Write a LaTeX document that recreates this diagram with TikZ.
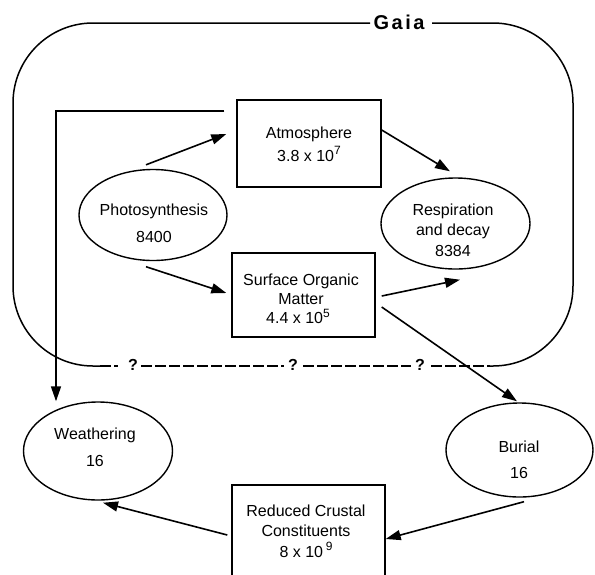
\documentclass[tikz,border=0pt]{standalone}
\usepackage{fontspec}
\setmainfont{Liberation Sans}
\usetikzlibrary{arrows.meta,shapes.geometric,calc}
\newcommand\supx[1]{\raisebox{0.42em}{\fontsize{12}{12}\selectfont #1}}
\begin{document}
\begin{tikzpicture}[x=1pt,y=-1pt,
  arr/.style={line width=1.6pt,-{Triangle[length=15pt,width=10pt]}},
  oval/.style={draw,ellipse,line width=1.4pt,inner sep=0pt},
  box/.style={draw,rectangle,line width=1.4pt,inner sep=0pt},
  lbl/.style={align=center,inner sep=0pt,font=\fontsize{16}{#1}\selectfont},
  bnd/.style={line width=1.5pt},
  dsh/.style={line width=1.7pt,dash pattern=on 11pt off 3pt},
  qm/.style={inner sep=0pt,font=\fontsize{16}{18}\selectfont\bfseries}]
\clip (0,0) rectangle (595,574);
\fill[white] (0,0) rectangle (595,574);
% Gaia boundary
\draw[bnd,rounded corners=80pt] (370,23) -- (13,23) -- (13,366) -- (100,366);
\draw[bnd,rounded corners=80pt] (432,23) -- (573,23) -- (573,366) -- (490,366);
\node[inner sep=0pt,font=\fontsize{20}{24}\selectfont\bfseries] (gaia) at (399,22) {G\kern2.5pt a\kern2.5pt i\kern2.5pt a};
\draw[dsh] (100,366) -- (118,366);
\draw[dsh] (141,366) -- (284,366);
\draw[dsh] (303,366) -- (411,366);
\draw[dsh] (431,366) -- (490,366);
\node[qm] (q1) at (133,365) {?};
\node[qm] (q2) at (293,365) {?};
\node[qm] (q3) at (420,365) {?};
% boxes
\node[box,minimum width=144pt,minimum height=87pt] (atm) at (309,143.5) {};
\node[lbl=23] (atmt) at (309,144) {Atmosphere\\3.8 x 10\supx{7}};
\node[box,minimum width=143pt,minimum height=84pt] (som) at (303.5,295) {};
\node[lbl=19] (somt) at (301,299) {Surface Organic\\Matter\hspace*{20pt}\\4.4 x 10\supx{5}\hspace*{6pt}};
\node[box,minimum width=153pt,minimum height=100pt] (crust) at (308.5,535) {};
\node[lbl=20.5] (crustt) at (306,531) {Reduced Crustal\\Constituents\\8 x 10\,\supx{9}};
% ellipses
\node[oval,minimum width=148pt,minimum height=91pt] (photo) at (153,215) {};
\node[lbl=27] (photot) at (154,223) {Photosynthesis\\8400};
\node[oval,minimum width=149pt,minimum height=91pt] (resp) at (455.5,223.5) {};
\node[lbl=20.5] (respt) at (453,230) {Respiration\\and decay\\8384};
\node[oval,minimum width=149pt,minimum height=98pt] (weath) at (98,451) {};
\node[lbl=27] (weatht) at (95,447) {Weathering\\16};
\node[oval,minimum width=147pt,minimum height=94pt] (burial) at (519.5,450) {};
\node[lbl=26] (burialt) at (519,460) {Burial\\16};
% connectors
\draw[arr] ($(photo.north)+(-7,-4)$) -- ($(atm.west)+(-10,-9.5)$);
\draw[arr] ($(atm.east)+(0,-13.5)$) -- ($(resp.north)+(-5.5,-6)$);
\draw[arr] ($(photo.south)+(-7,5.5)$) -- ($(som.west)+(-5,-2)$);
\draw[arr] ($(som.east)+(6,1)$) -- ($(resp.south)+(4.5,10)$);
\draw[arr] ($(som.east)+(6,12)$) -- ($(burial.north)+(-2.5,-1)$);
\coordinate (fbstart) at ($(atm.west)+(-12,-32.5)$);
\coordinate (fbcorner) at (56,111);
\draw[arr] (fbstart) -- (fbcorner) -- (fbcorner |- weath.north);
\draw[arr] ($(burial.south)+(4.5,4)$) -- ($(crust.east)+(0,4)$);
\draw[arr] ($(crust.west)+(-4,0)$) -- ($(weath.south)+(5,2)$);
\end{tikzpicture}
\end{document}
